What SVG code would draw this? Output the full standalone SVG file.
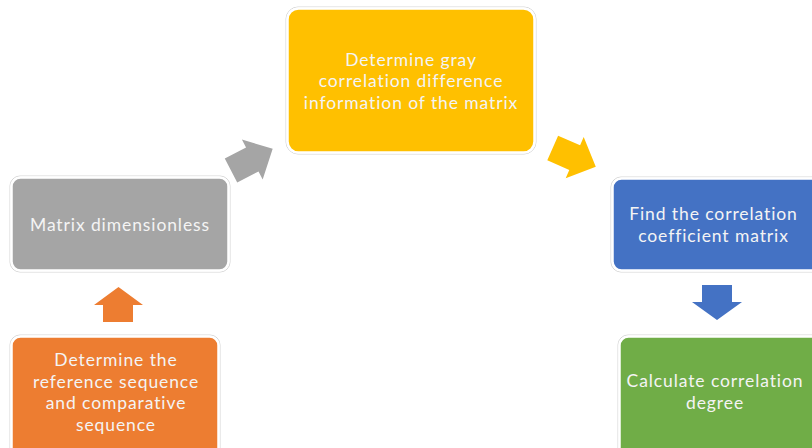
<svg xmlns="http://www.w3.org/2000/svg" width="812" height="448" viewBox="0 0 812 448">
<style>
.box{stroke:#ffffff;stroke-width:2.5}
.halo{fill:none;stroke:#d6d6d6;stroke-width:1}
.lbl{font-family:Lato,"Liberation Sans",sans-serif;font-size:17.5px;letter-spacing:0.9px;fill:#f4f4f4;text-anchor:middle}
</style>
<defs>
<path id="diagArrow" d="M0,-13.5 L24,-13.5 L24,-22.5 L47,0 L24,22.5 L24,13.5 L0,13.5 Z"/>
</defs>
<rect width="812" height="448" fill="#ffffff"/>
<g id="connectors">
<path d="M103,322 L103,305 L94,305 L118.5,287 L143,305 L133,305 L133,322 Z" fill="#ED7D31"/>
<use href="#diagArrow" fill="#A5A5A5" transform="translate(231,170.5) rotate(-27.5)"/>
<use href="#diagArrow" fill="#FFC000" transform="translate(552.7,148) rotate(23.6)"/>
<path d="M702,285 L732,285 L732,302 L742,302 L717,320 L692,302 L702,302 Z" fill="#4472C4"/>
</g>
<g id="node-orange">
<rect class="halo" x="10" y="335" width="210" height="123" rx="10"/>
<rect class="box" x="11.5" y="336.5" width="207" height="120" rx="9" fill="#ED7D31"/>
<text class="lbl" x="116" y="366">Determine the</text>
<text class="lbl" x="116" y="387.5">reference sequence</text>
<text class="lbl" x="116" y="409">and comparative</text>
<text class="lbl" x="116" y="430.5">sequence</text>
</g>
<g id="node-gray">
<rect class="halo" x="10" y="176" width="220" height="96" rx="10"/>
<rect class="box" x="11.5" y="177.5" width="217" height="93" rx="9" fill="#A5A5A5"/>
<text class="lbl" x="120" y="231">Matrix dimensionless</text>
</g>
<g id="node-yellow">
<rect class="halo" x="286" y="7" width="250" height="147" rx="12"/>
<rect class="box" x="287.5" y="8.5" width="247" height="144" rx="11" fill="#FFC000"/>
<text class="lbl" x="411" y="65.5">Determine gray</text>
<text class="lbl" x="411" y="87">correlation difference</text>
<text class="lbl" x="411" y="108.5">information of the matrix</text>
</g>
<g id="node-blue">
<rect class="halo" x="611" y="177" width="213" height="95" rx="10"/>
<rect class="box" x="612.5" y="178.5" width="210" height="92" rx="9" fill="#4472C4"/>
<text class="lbl" x="713.5" y="220">Find the correlation</text>
<text class="lbl" x="713.5" y="241.5">coefficient matrix</text>
</g>
<g id="node-green">
<rect class="halo" x="618" y="335" width="213" height="123" rx="10"/>
<rect class="box" x="619.5" y="336.5" width="210" height="120" rx="9" fill="#70AD47"/>
<text class="lbl" x="715" y="387">Calculate correlation</text>
<text class="lbl" x="715" y="409">degree</text>
</g>
</svg>
